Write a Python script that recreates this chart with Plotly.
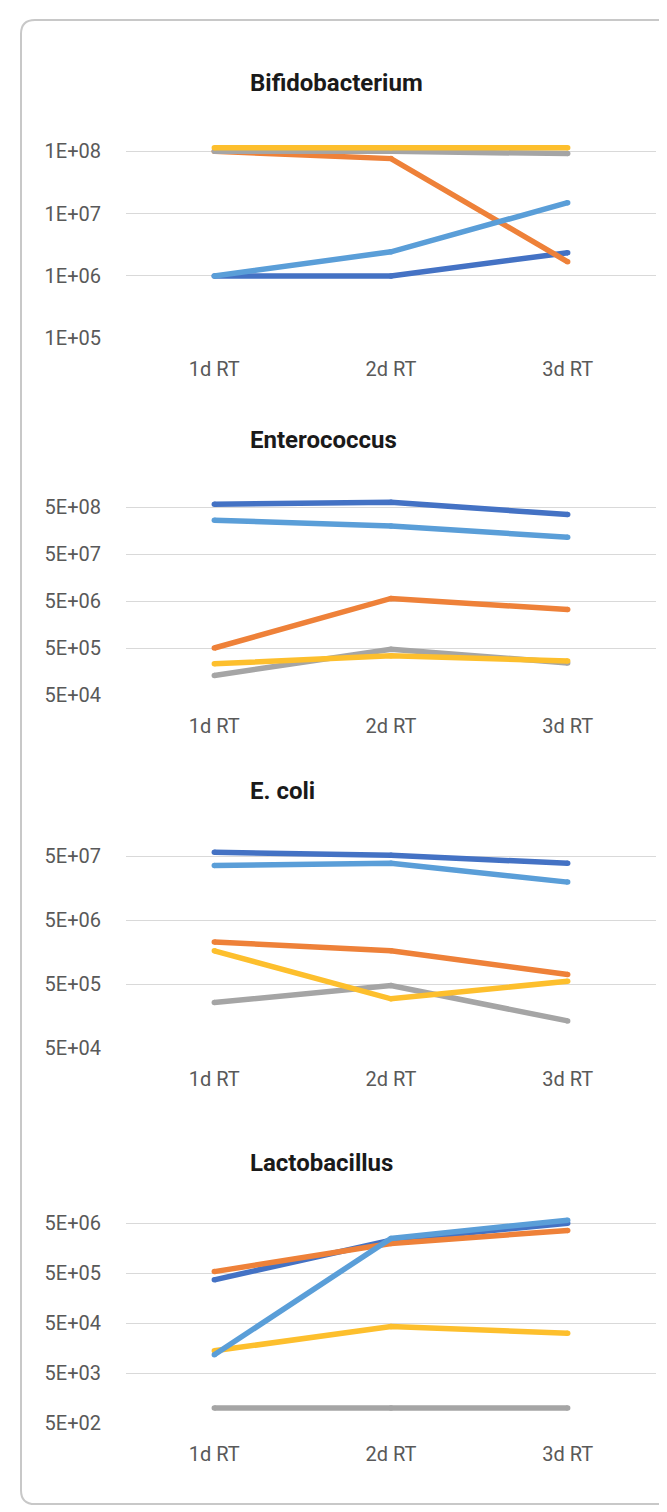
import plotly.graph_objects as go

# ---------------- data ----------------
categories = ["1d RT", "2d RT", "3d RT"]
series_names = ["Series 1", "Series 2", "Series 3", "Series 4", "Series 5"]
series_colors = ["#4472C4", "#EE8139", "#A5A5A5", "#FDBF2D", "#5A9ED8"]

panel_titles = ["Bifidobacterium", "Enterococcus", "E. coli", "Lactobacillus"]

bifido_s1 = [1.0e6, 1.0e6, 2.36e6]
bifido_s2 = [1.0e8, 7.65e7, 1.69e6]
bifido_s3 = [1.0e8, 1.0e8, 9.2e7]
bifido_s4 = [1.146e8, 1.146e8, 1.146e8]
bifido_s5 = [1.0e6, 2.44e6, 1.5e7]

entero_s1 = [5.8e8, 6.4e8, 3.5e8]
entero_s2 = [5.0e5, 5.7e6, 3.3e6]
entero_s3 = [1.3e5, 4.7e5, 2.4e5]
entero_s4 = [2.3e5, 3.4e5, 2.65e5]
entero_s5 = [2.65e8, 2.0e8, 1.15e8]

ecoli_s1 = [5.8e7, 5.2e7, 3.9e7]
ecoli_s2 = [2.3e6, 1.67e6, 7.1e5]
ecoli_s3 = [2.6e5, 4.8e5, 1.34e5]
ecoli_s4 = [1.67e6, 2.97e5, 5.6e5]
ecoli_s5 = [3.6e7, 3.9e7, 1.98e7]

lacto_s1 = [3.7e5, 2.3e6, 5.0e6]
lacto_s2 = [5.4e5, 1.98e6, 3.6e6]
lacto_s3 = [1.0e3, 1.0e3, 1.0e3]
lacto_s4 = [1.4e4, 4.3e4, 3.15e4]
lacto_s5 = [1.17e4, 2.5e6, 5.8e6]

bifido_ticks = [1e5, 1e6, 1e7, 1e8]
bifido_ticktext = ["1E+05", "1E+06", "1E+07", "1E+08"]
entero_ticks = [5e4, 5e5, 5e6, 5e7, 5e8]
entero_ticktext = ["5E+04", "5E+05", "5E+06", "5E+07", "5E+08"]
ecoli_ticks = [5e4, 5e5, 5e6, 5e7]
ecoli_ticktext = ["5E+04", "5E+05", "5E+06", "5E+07"]
lacto_ticks = [5e2, 5e3, 5e4, 5e5, 5e6]
lacto_ticktext = ["5E+02", "5E+03", "5E+04", "5E+05", "5E+06"]

# ---------------- layout geometry (pixels) ----------------
W, H = 667, 1512
FONT = "Roboto"
TICK_COLOR = "#595959"
GRID_COLOR = "#D9D9D9"
LINE_W = 5.5

def fx(px):
    return px / W

def fy(py):
    return 1 - py / H

panels = [
    dict(series=[bifido_s1, bifido_s2, bifido_s3, bifido_s4, bifido_s5],
         ticks=bifido_ticks, ticktext=bifido_ticktext,
         rng=[5.0, 8.2], bottom=331.3, decade=62.87, title_y=74),
    dict(series=[entero_s1, entero_s2, entero_s3, entero_s4, entero_s5],
         ticks=entero_ticks, ticktext=entero_ticktext,
         rng=[4.69897, 9.0], bottom=691.3, decade=47.33, title_y=434),
    dict(series=[ecoli_s1, ecoli_s2, ecoli_s3, ecoli_s4, ecoli_s5],
         ticks=ecoli_ticks, ticktext=ecoli_ticktext,
         rng=[4.69897, 7.9], bottom=1048.0, decade=64.57, title_y=788),
    dict(series=[lacto_s1, lacto_s2, lacto_s3, lacto_s4, lacto_s5],
         ticks=lacto_ticks, ticktext=lacto_ticktext,
         rng=[2.69897, 6.9], bottom=1426.3, decade=50.4, title_y=1164),
]

fig = go.Figure()
layout_axes = {}
annotations = []

for i, p in enumerate(panels):
    k = "" if i == 0 else str(i + 1)
    for name, color, vals in zip(series_names, series_colors, p["series"]):
        fig.add_trace(go.Scatter(
            x=categories, y=vals, mode="lines+markers", name=name,
            line=dict(color=color, width=LINE_W),
            marker=dict(color=color, size=LINE_W, line=dict(width=0)),
            xaxis="x" + k, yaxis="y" + k, showlegend=False,
        ))
    top_px = p["bottom"] - (p["rng"][1] - p["rng"][0]) * p["decade"]
    layout_axes["xaxis" + k] = dict(
        domain=[fx(118), fx(648)], anchor="y" + k, type="category",
        range=[-0.5, 2.5], showgrid=False, zeroline=False, showline=False,
        ticks="", tickfont=dict(family=FONT, size=20, color=TICK_COLOR),
        ticklabelstandoff=17, fixedrange=True,
    )
    layout_axes["yaxis" + k] = dict(
        domain=[fy(p["bottom"]), fy(top_px)], anchor="x" + k, type="log",
        range=p["rng"], tickvals=p["ticks"], ticktext=p["ticktext"],
        showgrid=True, gridcolor=GRID_COLOR, gridwidth=1.2,
        zeroline=False, showline=False, ticks="",
        tickfont=dict(family=FONT, size=20, color=TICK_COLOR),
        ticklabelstandoff=24, fixedrange=True,
    )
    annotations.append(dict(
        text="<b>" + panel_titles[i] + "</b>", x=fx(240), y=fy(p["title_y"]),
        xref="paper", yref="paper", xanchor="left", yanchor="middle",
        showarrow=False, font=dict(family=FONT, size=24, color="#1A1A1A"),
    ))

# rounded border (clipped on right edge as in the reference)
L, T, R, B, r = 13, 10, 690, 1508, 14
path = (
    f"M {fx(L + r)} {fy(T)} L {fx(R - r)} {fy(T)} "
    f"Q {fx(R)} {fy(T)} {fx(R)} {fy(T + r)} L {fx(R)} {fy(B - r)} "
    f"Q {fx(R)} {fy(B)} {fx(R - r)} {fy(B)} L {fx(L + r)} {fy(B)} "
    f"Q {fx(L)} {fy(B)} {fx(L)} {fy(B - r)} L {fx(L)} {fy(T + r)} "
    f"Q {fx(L)} {fy(T)} {fx(L + r)} {fy(T)} Z"
)

fig.update_layout(
    width=W, height=H, autosize=False,
    margin=dict(l=0, r=0, t=0, b=0),
    paper_bgcolor="white", plot_bgcolor="white",
    showlegend=False,
    annotations=annotations,
    shapes=[dict(type="path", path=path, xref="paper", yref="paper",
                 line=dict(color="#C8C8C8", width=2), layer="below")],
    **layout_axes,
)

fig.write_html("out.html")
